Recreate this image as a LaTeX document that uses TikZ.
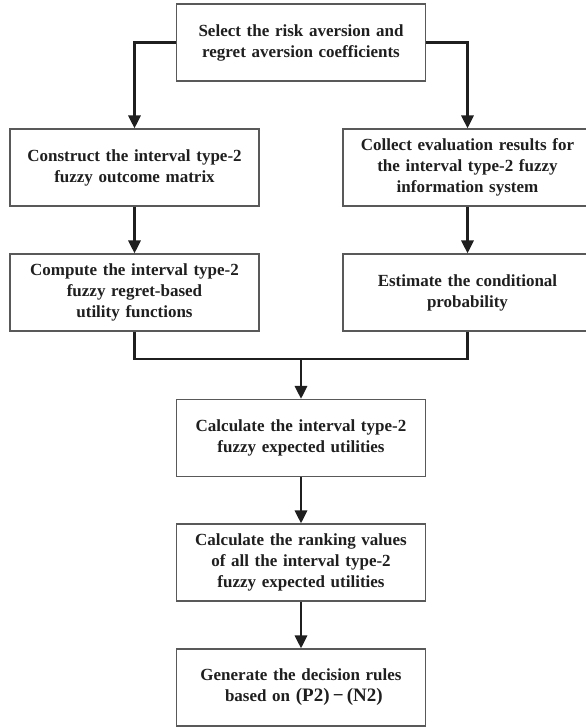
\documentclass[tikz,border=0pt]{standalone}
\usepackage{fontspec}
\setmainfont{Liberation Serif}
\usetikzlibrary{arrows.meta}

\begin{document}
\begin{tikzpicture}[x=1pt, y=-1pt,
  box/.style={draw=black!65, line width=1.1pt, minimum width=249pt, minimum height=77pt,
    text width=244pt, align=center, inner sep=0pt, text=black!88,
    font=\fontsize{17}{21}\selectfont\bfseries},
  wire/.style={draw=black!88, line width=2.8pt},
  flow/.style={wire, -{Triangle[length=13pt, width=12pt]}}]

\useasboundingbox (0, 0) rectangle (586, 728);

\node[box] (select) at (301, 42.5) {Select the risk aversion and\\regret aversion coefficients};

\node[box] (outcome) at (134.5, 167.5) {Construct the interval type-2\\fuzzy outcome matrix};
\node[box] (collect) at (467.5, 167.5) {Collect evaluation results for\\the interval type-2 fuzzy\\information system};

\node[box] (utility) at (134.5, 292.5) {Compute the interval type-2\\fuzzy regret-based\\utility functions};
\node[box] (probability) at (467.5, 292.5) {Estimate the conditional\\probability};

\node[box] (expected) at (301, 438) {Calculate the interval type-2\\fuzzy expected utilities};
\node[box] (ranking) at (301, 562.5) {Calculate the ranking values\\of all the interval type-2\\fuzzy expected utilities};
\node[box] (rules) at (301, 687.5) {Generate the decision rules\\\ based on {\fontsize{19}{21}\selectfont(P2)\,−\,(N2)}};

\coordinate (merge) at (301, 359);

% split
\draw[flow] (select.west) -| (outcome.north);
\draw[flow] (select.east) -| (collect.north);

\foreach \a/\b in {outcome/utility, collect/probability, expected/ranking, ranking/rules} {
\draw[flow] (\a) -- (\b);
}

% join
\draw[wire] (utility.south) |- (merge) -| (probability.south);
\draw[flow] (merge) -- (expected.north);

\end{tikzpicture}
\end{document}
